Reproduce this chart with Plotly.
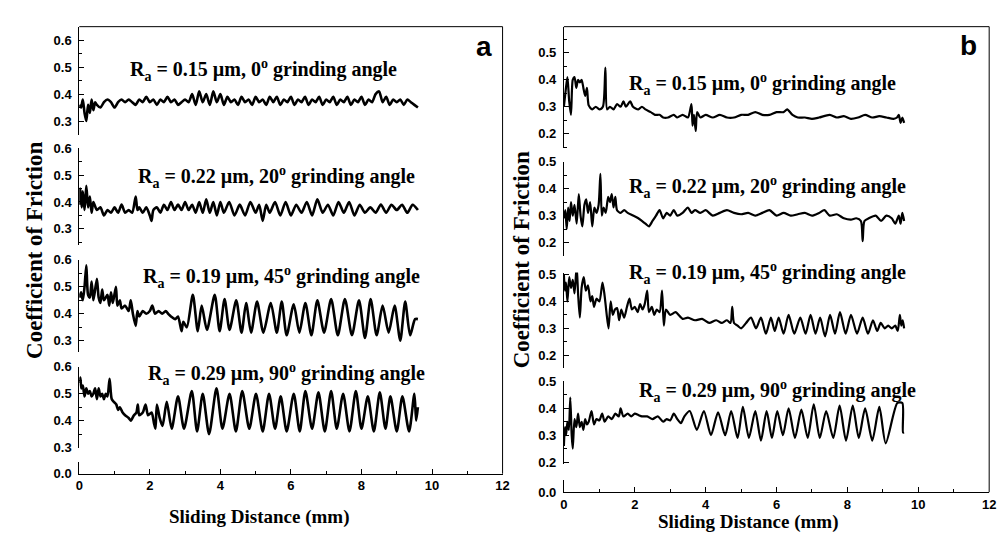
import plotly.graph_objects as go

W, H = 1005, 533

# ---------------- data (sliding distance in mm, coefficient of friction) ----------------
# Panel a
A1_X = [0.0,0.05,0.1,0.15,0.2,0.25,0.3,0.35,0.4,0.45,0.5,0.6,0.7,0.8,0.9,1.0,1.1,1.2,1.3,1.4,1.5,1.6,1.7,1.8,1.9,2.0,
        2.1,2.2,2.3,2.4,2.5,2.6,2.7,2.8,2.9,3.0,3.1,3.2,3.3,3.4,3.5,3.6,3.7,3.8,3.9,4.0,4.1,4.2,4.3,4.4,4.5,4.6,4.7,4.8,
        4.9,5.0,5.1,5.2,5.3,5.4,5.5,5.6,5.7,5.8,5.9,6.0,6.1,6.2,6.3,6.4,6.5,6.6,6.7,6.8,6.9,7.0,7.1,7.2,7.3,7.4,7.5,7.6,
        7.7,7.8,7.9,8.0,8.1,8.2,8.3,8.4,8.5,8.6,8.7,8.8,8.9,9.0,9.1,9.2,9.3,9.4,9.5,9.6]
A1_Y = [0.36,0.35,0.38,0.33,0.30,0.36,0.33,0.38,0.34,0.37,0.36,0.35,0.37,0.38,0.37,0.35,0.37,0.38,0.37,0.38,0.37,0.36,0.38,0.37,0.39,0.37,
        0.38,0.36,0.38,0.37,0.39,0.37,0.38,0.36,0.37,0.38,0.37,0.40,0.36,0.41,0.37,0.40,0.36,0.41,0.37,0.40,0.36,0.39,0.37,0.38,0.36,0.39,0.37,0.38,
        0.36,0.39,0.37,0.38,0.36,0.39,0.37,0.39,0.36,0.38,0.37,0.39,0.36,0.38,0.37,0.39,0.36,0.38,0.37,0.39,0.36,0.38,0.37,0.39,0.36,0.38,0.37,0.39,
        0.36,0.38,0.37,0.39,0.36,0.38,0.37,0.40,0.41,0.37,0.39,0.36,0.38,0.37,0.38,0.36,0.38,0.37,0.36,0.35]

A2_X = [0.0,0.03,0.07,0.1,0.15,0.2,0.25,0.3,0.35,0.4,0.5,0.6,0.7,0.8,0.9,1.0,1.1,1.2,1.3,1.4,1.5,1.6,1.65,1.7,1.8,1.9,2.0,
        2.05,2.1,2.2,2.3,2.4,2.5,2.6,2.7,2.8,2.9,3.0,3.1,3.2,3.3,3.4,3.5,3.6,3.7,3.8,3.9,4.0,4.1,4.25,4.4,4.55,4.7,4.85,
        5.0,5.1,5.2,5.3,5.4,5.55,5.7,5.85,6.0,6.15,6.3,6.45,6.6,6.75,6.9,7.05,7.2,7.35,7.5,7.65,7.8,7.95,8.1,8.25,8.4,
        8.55,8.7,8.85,9.0,9.15,9.3,9.45,9.6]
A2_Y = [0.39,0.45,0.38,0.44,0.37,0.46,0.38,0.42,0.36,0.40,0.37,0.38,0.35,0.37,0.36,0.38,0.36,0.39,0.36,0.37,0.36,0.42,0.37,0.38,0.36,0.38,0.35,
        0.33,0.37,0.38,0.36,0.39,0.37,0.40,0.37,0.39,0.37,0.40,0.37,0.39,0.36,0.40,0.36,0.41,0.36,0.40,0.35,0.40,0.36,0.40,0.35,0.39,0.35,0.40,
        0.36,0.39,0.33,0.39,0.36,0.40,0.35,0.40,0.35,0.39,0.36,0.40,0.35,0.41,0.36,0.39,0.35,0.40,0.36,0.40,0.35,0.39,0.36,0.38,0.36,
        0.39,0.36,0.39,0.37,0.39,0.36,0.39,0.37]

A3_X = [0.0,0.05,0.1,0.15,0.2,0.25,0.3,0.35,0.4,0.5,0.55,0.6,0.65,0.7,0.8,0.85,0.9,0.95,1.04,1.08,1.15,1.2,1.3,1.4,1.46,1.52,
        1.6,1.65,1.7,1.8,1.9,2.0,2.07,2.15,2.25,2.35,2.45,2.52,2.6,2.72,2.8,2.9,2.95,3.05,3.22,3.36,3.47,3.62,3.84,3.98,
        4.12,4.26,4.45,4.6,4.73,4.87,5.04,5.22,5.43,5.6,5.74,5.88,6.08,6.24,6.41,6.58,6.75,6.94,7.14,7.33,7.53,7.73,7.93,
        8.1,8.26,8.43,8.6,8.77,8.94,9.1,9.24,9.38,9.52,9.6]
A3_Y = [0.46,0.48,0.45,0.50,0.58,0.47,0.46,0.52,0.45,0.53,0.46,0.44,0.49,0.45,0.47,0.43,0.48,0.44,0.50,0.43,0.45,0.42,0.43,0.41,0.45,0.40,
        0.355,0.41,0.39,0.41,0.40,0.41,0.43,0.40,0.41,0.40,0.41,0.40,0.39,0.38,0.39,0.335,0.37,0.35,0.47,0.335,0.43,0.34,0.47,0.335,
        0.455,0.34,0.45,0.33,0.44,0.33,0.445,0.33,0.44,0.33,0.445,0.32,0.435,0.33,0.44,0.32,0.45,0.33,0.455,0.32,0.455,0.32,0.45,
        0.31,0.455,0.32,0.43,0.33,0.43,0.30,0.445,0.32,0.38,0.38]

A4_X = [0.0,0.03,0.06,0.1,0.15,0.2,0.25,0.3,0.35,0.4,0.45,0.5,0.55,0.6,0.65,0.7,0.75,0.8,0.86,0.92,0.98,1.05,1.1,1.15,1.23,
        1.3,1.4,1.46,1.55,1.62,1.66,1.7,1.8,1.88,1.95,2.05,2.12,2.16,2.2,2.28,2.36,2.48,2.62,2.8,2.97,3.19,3.34,3.5,3.68,
        3.89,4.06,4.26,4.44,4.62,4.82,5.01,5.2,5.38,5.55,5.71,5.88,6.08,6.25,6.41,6.6,6.78,6.96,7.14,7.3,7.48,7.66,7.84,
        8.0,8.18,8.35,8.52,8.68,8.82,9.0,9.16,9.35,9.5,9.55,9.6]
A4_Y = [0.54,0.56,0.52,0.53,0.49,0.52,0.50,0.51,0.49,0.50,0.52,0.48,0.52,0.49,0.50,0.48,0.50,0.49,0.555,0.48,0.47,0.46,0.44,0.45,0.43,
        0.42,0.41,0.40,0.42,0.43,0.46,0.42,0.43,0.46,0.42,0.43,0.39,0.37,0.46,0.41,0.38,0.47,0.37,0.49,0.37,0.51,0.36,0.50,0.35,
        0.52,0.37,0.50,0.36,0.51,0.37,0.50,0.36,0.50,0.37,0.49,0.36,0.50,0.36,0.51,0.37,0.505,0.36,0.51,0.37,0.50,0.36,0.51,
        0.37,0.49,0.36,0.505,0.37,0.49,0.36,0.49,0.36,0.50,0.40,0.45]

# Panel b
B1_X = [0.0,0.05,0.1,0.15,0.2,0.25,0.3,0.35,0.4,0.45,0.5,0.55,0.6,0.65,0.7,0.8,0.9,1.0,1.1,1.17,1.22,1.3,1.4,1.5,1.6,1.68,
        1.75,1.87,1.95,2.1,2.2,2.3,2.45,2.57,2.7,2.8,2.94,3.1,3.2,3.35,3.5,3.6,3.63,3.67,3.72,3.76,3.85,4.0,4.2,4.4,4.6,
        4.8,5.0,5.2,5.4,5.6,5.8,6.0,6.2,6.3,6.45,6.6,6.8,7.0,7.2,7.5,7.7,7.9,8.1,8.3,8.5,8.7,8.9,9.1,9.3,9.4,9.45,9.5,
        9.55,9.6]
B1_Y = [0.30,0.36,0.41,0.32,0.27,0.40,0.41,0.37,0.40,0.39,0.40,0.37,0.34,0.37,0.305,0.29,0.30,0.29,0.30,0.445,0.29,0.30,0.29,0.31,0.30,0.32,
        0.30,0.32,0.30,0.29,0.30,0.29,0.28,0.27,0.27,0.26,0.26,0.27,0.26,0.27,0.26,0.31,0.23,0.27,0.21,0.28,0.26,0.27,0.26,0.27,0.26,
        0.26,0.27,0.27,0.28,0.27,0.27,0.28,0.28,0.29,0.27,0.26,0.26,0.255,0.26,0.27,0.26,0.265,0.255,0.26,0.27,0.26,0.265,0.26,0.255,0.26,0.27,0.24,
        0.26,0.24]

B2_X = [0.0,0.04,0.08,0.12,0.16,0.2,0.25,0.3,0.36,0.42,0.47,0.52,0.58,0.63,0.68,0.74,0.8,0.86,0.92,0.98,1.03,1.07,1.12,1.18,
        1.25,1.3,1.35,1.4,1.45,1.5,1.6,1.7,1.8,1.95,2.1,2.2,2.3,2.4,2.5,2.6,2.7,2.8,2.9,3.0,3.1,3.2,3.35,3.5,3.6,3.7,3.85,
        4.0,4.2,4.4,4.6,4.8,5.0,5.2,5.4,5.6,5.8,6.0,6.2,6.4,6.6,6.8,7.0,7.2,7.35,7.5,7.7,7.9,8.1,8.25,8.38,8.43,8.48,8.6,
        8.8,8.95,9.1,9.25,9.35,9.45,9.5,9.55,9.6]
B2_Y = [0.29,0.32,0.25,0.33,0.28,0.35,0.30,0.34,0.27,0.38,0.30,0.26,0.34,0.36,0.31,0.35,0.26,0.33,0.31,0.34,0.455,0.30,0.33,0.31,
        0.37,0.35,0.38,0.33,0.37,0.32,0.31,0.32,0.31,0.30,0.29,0.28,0.27,0.26,0.28,0.30,0.32,0.29,0.31,0.30,0.32,0.30,0.31,0.33,0.31,0.32,0.31,
        0.32,0.30,0.31,0.32,0.31,0.305,0.31,0.30,0.31,0.32,0.30,0.31,0.30,0.305,0.31,0.30,0.31,0.32,0.30,0.305,0.29,0.285,0.29,0.28,0.205,0.28,0.29,
        0.30,0.28,0.30,0.29,0.27,0.30,0.27,0.31,0.28]

B3_X = [0.0,0.03,0.06,0.1,0.15,0.2,0.25,0.3,0.36,0.4,0.45,0.5,0.56,0.62,0.68,0.75,0.8,0.85,0.92,1.0,1.09,1.15,1.2,1.26,1.32,
        1.38,1.44,1.5,1.56,1.62,1.7,1.78,1.85,1.92,2.0,2.08,2.15,2.22,2.28,2.35,2.4,2.48,2.55,2.62,2.7,2.77,2.82,2.88,3.0,
        3.15,3.35,3.5,3.7,3.9,4.1,4.3,4.45,4.6,4.7,4.75,4.8,4.9,5.0,5.14,5.28,5.42,5.56,5.7,5.84,5.95,6.06,6.2,6.34,6.5,
        6.67,6.82,6.96,7.1,7.23,7.37,7.51,7.65,7.79,7.95,8.1,8.27,8.43,8.58,8.72,8.84,8.94,9.05,9.15,9.25,9.35,9.42,9.48,
        9.52,9.56,9.6]
B3_Y = [0.50,0.44,0.47,0.40,0.49,0.45,0.48,0.43,0.53,0.43,0.34,0.45,0.49,0.44,0.46,0.40,0.42,0.38,0.41,0.40,0.47,0.42,0.36,0.30,0.40,
        0.35,0.37,0.375,0.33,0.37,0.34,0.38,0.41,0.37,0.38,0.36,0.39,0.37,0.39,0.44,0.36,0.38,0.35,0.37,0.36,0.44,0.31,0.37,0.35,
        0.36,0.335,0.34,0.33,0.335,0.32,0.33,0.32,0.33,0.32,0.38,0.32,0.31,0.30,0.32,0.34,0.30,0.34,0.28,0.34,0.29,0.34,0.28,0.35,0.28,
        0.34,0.28,0.35,0.28,0.34,0.27,0.35,0.28,0.36,0.28,0.35,0.28,0.34,0.28,0.33,0.29,0.32,0.30,0.31,0.30,0.31,0.29,0.35,
        0.31,0.33,0.30]

B4_X = [0.0,0.03,0.06,0.1,0.14,0.18,0.22,0.25,0.3,0.35,0.4,0.45,0.5,0.55,0.6,0.65,0.7,0.78,0.85,0.92,1.0,1.08,1.15,1.25,1.35,
        1.45,1.55,1.6,1.68,1.8,1.9,2.0,2.1,2.2,2.35,2.5,2.65,2.8,2.9,3.0,3.1,3.2,3.3,3.4,3.55,3.75,3.95,4.15,4.35,4.55,
        4.72,4.9,5.05,5.22,5.4,5.56,5.72,5.87,6.02,6.18,6.34,6.52,6.7,6.88,7.05,7.22,7.4,7.6,7.78,7.96,8.15,8.32,8.5,8.7,
        8.9,9.08,9.41,9.55,9.57,9.6]
B4_Y = [0.26,0.33,0.30,0.35,0.32,0.44,0.30,0.25,0.36,0.33,0.38,0.33,0.35,0.32,0.36,0.34,0.35,0.39,0.34,0.36,0.355,0.38,0.35,0.37,0.36,
        0.38,0.37,0.40,0.37,0.38,0.37,0.38,0.375,0.37,0.37,0.36,0.37,0.35,0.36,0.355,0.38,0.36,0.345,0.37,0.39,0.32,0.39,0.30,0.385,0.30,
        0.39,0.29,0.405,0.29,0.39,0.28,0.39,0.29,0.39,0.30,0.40,0.29,0.395,0.29,0.415,0.29,0.39,0.29,0.41,0.28,0.41,0.29,0.40,0.28,
        0.405,0.27,0.42,0.42,0.31,0.31]

LABELS_A = ["R<sub>a</sub> = 0.15 µm, 0<sup>o</sup> grinding angle",
            "R<sub>a</sub> = 0.22 µm, 20<sup>o</sup> grinding angle",
            "R<sub>a</sub> = 0.19 µm, 45<sup>o</sup> grinding angle",
            "R<sub>a</sub> = 0.29 µm, 90<sup>o</sup> grinding angle"]
LABELS_B = LABELS_A
Y_TITLE = "Coefficient of Friction"
X_TITLE = "Sliding Distance (mm)"
X_TICKS = [0, 2, 4, 6, 8, 10, 12]

# ---------------- layout helpers (pixel geometry) ----------------
PPU = 277.0  # pixels per unit of friction coefficient

def fx(p):
    return p / W

def fy(p):
    return 1 - p / H

def seg(top_px, bot_px, ref_val, ref_px):
    rng = [ref_val - (bot_px - ref_px) / PPU, ref_val + (ref_px - top_px) / PPU]
    dom = [fy(bot_px), fy(top_px)]
    return dom, rng

panels = [
    dict(xdom=(68, 496), bottom=472, top=12,
         segs=[seg(12, 123, 0.6, 26), seg(137, 237, 0.6, 137), seg(252, 347, 0.6, 252),
               seg(362, 445.5, 0.6, 362), seg(460, 472, 0.0, 472)],
         traces=[(A1_X, A1_Y), (A2_X, A2_Y), (A3_X, A3_Y), (A4_X, A4_Y)],
         labels=LABELS_A, label_pos=[(117, 57), (125, 167), (130, 270), (135, 369)],
         width=2.6, letter="a", letter_pos=(477, 32),
         ytitle_pos=(22, 242), xtitle_pos=(250, 517)),
    dict(xdom=(558, 988), bottom=491, top=12,
         segs=[seg(12, 137, 0.5, 39), seg(151, 248, 0.5, 151), seg(265, 363, 0.5, 267),
               seg(377, 461.5, 0.5, 377), seg(478, 491, 0.0, 491)],
         traces=[(B1_X, B1_Y), (B2_X, B2_Y), (B3_X, B3_Y), (B4_X, B4_Y)],
         labels=LABELS_B, label_pos=[(622, 71), (622, 177), (622, 265), (632, 387)],
         width=2.2, letter="b", letter_pos=(967, 31),
         ytitle_pos=(516, 252), xtitle_pos=(745, 522)),
]

SANS = "Liberation Sans"
SERIF = "Liberation Serif"

fig = go.Figure()
layout = dict(width=W, height=H, margin=dict(l=0, r=0, t=0, b=0), autosize=False,
              paper_bgcolor="white", plot_bgcolor="white", showlegend=False)
shapes, annotations = [], []

yi = 1
for pi, p in enumerate(panels):
    xname = "x" if pi == 0 else f"x{pi + 1}"
    xkey = "xaxis" if pi == 0 else f"xaxis{pi + 1}"
    bottom_y = yi + 4
    layout[xkey] = dict(domain=[fx(p["xdom"][0]), fx(p["xdom"][1])], range=[0, 12],
                        anchor=f"y{bottom_y}", showline=True, linecolor="black", linewidth=1,
                        ticks="inside", ticklen=5, tickwidth=1, tickcolor="black",
                        tickvals=X_TICKS, showgrid=False, zeroline=False,
                        minor=dict(ticks="inside", ticklen=3, dtick=1, tick0=0, tickcolor="black", showgrid=False),
                        tickfont=dict(family=SANS, size=13, color="black", weight="bold"))
    for si, (dom, rng) in enumerate(p["segs"]):
        ykey = "yaxis" if yi == 1 else f"yaxis{yi}"
        yname = "y" if yi == 1 else f"y{yi}"
        ax = dict(domain=dom, range=rng, anchor=xname, showline=True, linecolor="black", linewidth=1,
                  ticks="inside", ticklen=5, tickwidth=1, tickcolor="black", showgrid=False, zeroline=False,
                  tickmode="linear", tick0=0, dtick=0.1, tickformat=".1f", ticklabelstandoff=4,
                  tickfont=dict(family=SANS, size=13, color="black", weight="bold"))
        if si < 4:
            ax["minor"] = dict(ticks="inside", ticklen=3, dtick=0.05, tick0=0.05, tickcolor="black", showgrid=False)
        layout[ykey] = ax
        if si < 4:
            tx, ty = p["traces"][si]
            fig.add_trace(go.Scatter(x=tx, y=ty, mode="lines", xaxis=xname, yaxis=yname,
                                     line=dict(color="black", width=p["width"], shape="spline", smoothing=0.7),
                                     hoverinfo="skip"))
            lx, ly = p["label_pos"][si]
            annotations.append(dict(text=p["labels"][si], x=fx(lx), y=fy(ly), xref="paper", yref="paper",
                                    xanchor="left", yanchor="middle", showarrow=False,
                                    font=dict(family=SERIF, size=20, color="black", weight="bold")))
        else:
            # empty trace so the bottom (0.0) axis stub and the x axis are drawn
            fig.add_trace(go.Scatter(x=[], y=[], mode="lines", xaxis=xname, yaxis=yname, hoverinfo="skip"))
        yi += 1
    # frame: top and right edges
    x0, x1 = fx(p["xdom"][0]), fx(p["xdom"][1])
    shapes.append(dict(type="line", xref="paper", yref="paper", x0=x0, x1=x1, y0=fy(p["top"]), y1=fy(p["top"]),
                       line=dict(color="black", width=1)))
    shapes.append(dict(type="line", xref="paper", yref="paper", x0=x1, x1=x1, y0=fy(p["top"]), y1=fy(p["bottom"]),
                       line=dict(color="black", width=1)))
    lx, ly = p["letter_pos"]
    annotations.append(dict(text=p["letter"], x=fx(lx), y=fy(ly), xref="paper", yref="paper",
                            xanchor="center", yanchor="middle", showarrow=False,
                            font=dict(family=SANS, size=28, color="black", weight="bold")))
    tx, ty = p["ytitle_pos"]
    annotations.append(dict(text=Y_TITLE, x=fx(tx), y=fy(ty), xref="paper", yref="paper", textangle=-90,
                            xanchor="center", yanchor="middle", showarrow=False,
                            font=dict(family=SERIF, size=23, color="black", weight="bold")))
    tx, ty = p["xtitle_pos"]
    annotations.append(dict(text=X_TITLE, x=fx(tx), y=fy(ty), xref="paper", yref="paper",
                            xanchor="center", yanchor="middle", showarrow=False,
                            font=dict(family=SERIF, size=19, color="black", weight="bold")))

layout["shapes"] = shapes
layout["annotations"] = annotations
fig.update_layout(**layout)
fig.write_html("out.html")
